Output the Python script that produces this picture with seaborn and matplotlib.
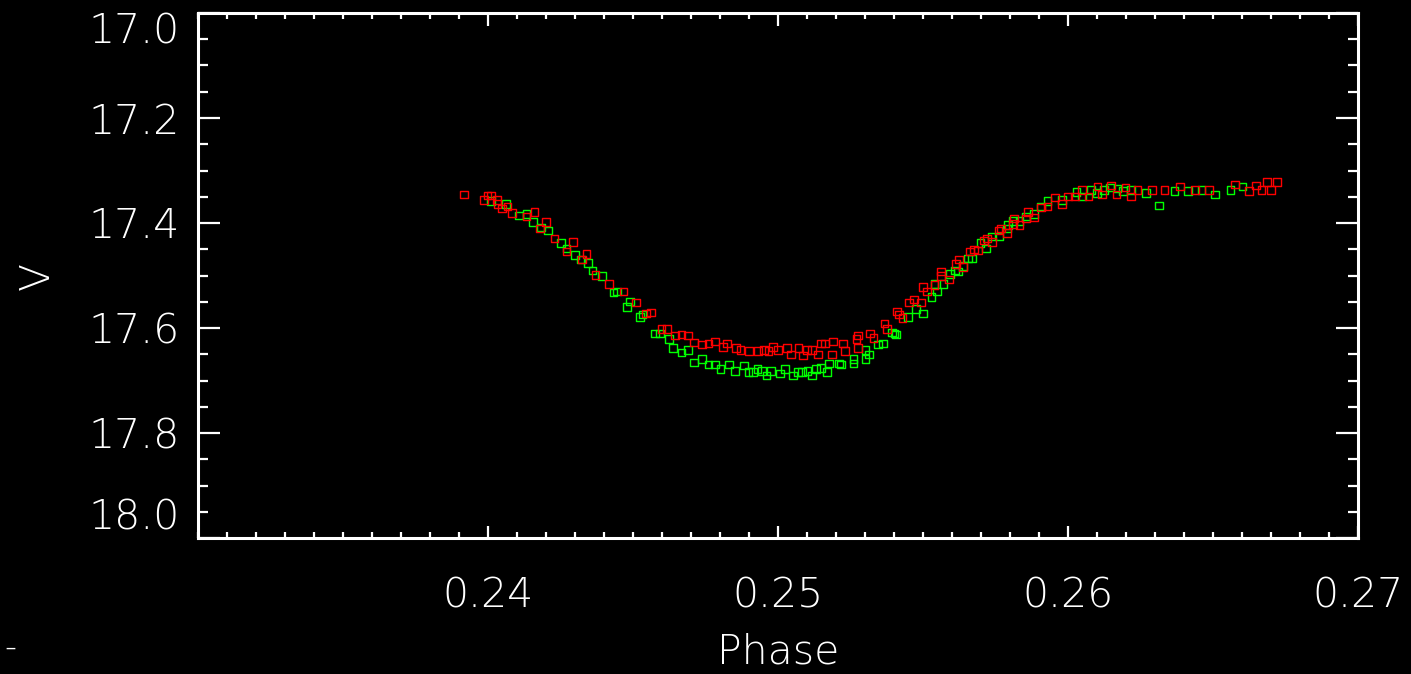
import matplotlib
matplotlib.use("Agg")
import matplotlib.pyplot as plt
import pandas as pd
import seaborn as sns
from matplotlib.ticker import MultipleLocator

# V-band light curve around phase 0.25, two observing runs
red_phase = [
    0.23917, 0.23986, 0.23997, 0.24010, 0.24031, 0.24034, 0.24048, 0.24066, 0.24083, 0.24134,
    0.24159, 0.24179, 0.24200, 0.24228, 0.24272, 0.24293, 0.24324, 0.24341, 0.24372, 0.24417,
    0.24466, 0.24510, 0.24545, 0.24562, 0.24597, 0.24617, 0.24645, 0.24666, 0.24690, 0.24710,
    0.24738, 0.24759, 0.24783, 0.24810, 0.24824, 0.24855, 0.24872, 0.24900, 0.24931, 0.24952,
    0.24966, 0.24983, 0.25000, 0.25031, 0.25045, 0.25072, 0.25086, 0.25100, 0.25117, 0.25138,
    0.25148, 0.25162, 0.25186, 0.25190, 0.25224, 0.25231, 0.25272, 0.25276, 0.25276, 0.25317,
    0.25328, 0.25366, 0.25376, 0.25410, 0.25417, 0.25428, 0.25452, 0.25469, 0.25493, 0.25500,
    0.25514, 0.25541, 0.25562, 0.25562, 0.25590, 0.25614, 0.25624, 0.25638, 0.25662, 0.25676,
    0.25690, 0.25710, 0.25721, 0.25738, 0.25759, 0.25769, 0.25790, 0.25810, 0.25814, 0.25834,
    0.25855, 0.25862, 0.25883, 0.25907, 0.25928, 0.25955, 0.25979, 0.26000, 0.26024, 0.26048,
    0.26072, 0.26103, 0.26117, 0.26148, 0.26166, 0.26197, 0.26217, 0.26241, 0.26290, 0.26334,
    0.26386, 0.26438, 0.26486, 0.26576, 0.26624, 0.26648, 0.26666, 0.26686, 0.26700, 0.26721,
]
red_mag = [
    17.345, 17.356, 17.347, 17.347, 17.356, 17.364, 17.373, 17.368, 17.381, 17.387,
    17.379, 17.410, 17.398, 17.430, 17.455, 17.436, 17.470, 17.459, 17.499, 17.516,
    17.530, 17.552, 17.573, 17.570, 17.602, 17.602, 17.615, 17.613, 17.615, 17.627,
    17.632, 17.630, 17.625, 17.636, 17.630, 17.638, 17.642, 17.644, 17.644, 17.642,
    17.644, 17.636, 17.642, 17.638, 17.650, 17.638, 17.653, 17.642, 17.642, 17.650,
    17.630, 17.630, 17.650, 17.625, 17.630, 17.644, 17.621, 17.615, 17.638, 17.610,
    17.619, 17.592, 17.602, 17.568, 17.575, 17.581, 17.552, 17.545, 17.552, 17.522,
    17.530, 17.518, 17.493, 17.501, 17.507, 17.478, 17.470, 17.484, 17.455, 17.450,
    17.453, 17.434, 17.429, 17.436, 17.415, 17.410, 17.419, 17.402, 17.392, 17.404,
    17.392, 17.379, 17.389, 17.371, 17.368, 17.352, 17.364, 17.350, 17.350, 17.337,
    17.350, 17.330, 17.345, 17.328, 17.345, 17.333, 17.350, 17.337, 17.337, 17.337,
    17.331, 17.337, 17.337, 17.326, 17.339, 17.328, 17.337, 17.322, 17.337, 17.322,
]

green_phase = [
    0.24010, 0.24062, 0.24107, 0.24134, 0.24155, 0.24183, 0.24207, 0.24252, 0.24272, 0.24300,
    0.24321, 0.24345, 0.24359, 0.24393, 0.24434, 0.24445, 0.24479, 0.24490, 0.24524, 0.24534,
    0.24576, 0.24593, 0.24624, 0.24638, 0.24666, 0.24690, 0.24710, 0.24738, 0.24759, 0.24783,
    0.24803, 0.24831, 0.24852, 0.24883, 0.24897, 0.24914, 0.24928, 0.24945, 0.24959, 0.24976,
    0.25007, 0.25024, 0.25052, 0.25069, 0.25083, 0.25103, 0.25117, 0.25131, 0.25148, 0.25169,
    0.25176, 0.25210, 0.25217, 0.25259, 0.25259, 0.25303, 0.25314, 0.25303, 0.25345, 0.25362,
    0.25393, 0.25403, 0.25407, 0.25448, 0.25476, 0.25500, 0.25528, 0.25541, 0.25548, 0.25572,
    0.25593, 0.25610, 0.25621, 0.25638, 0.25655, 0.25669, 0.25697, 0.25717, 0.25738, 0.25762,
    0.25790, 0.25793, 0.25810, 0.25834, 0.25855, 0.25883, 0.25907, 0.25928, 0.25979, 0.26028,
    0.26048, 0.26079, 0.26100, 0.26124, 0.26145, 0.26172, 0.26190, 0.26217, 0.26269, 0.26314,
    0.26366, 0.26414, 0.26459, 0.26507, 0.26559, 0.26603,
]
green_mag = [
    17.358, 17.364, 17.385, 17.383, 17.398, 17.408, 17.415, 17.438, 17.448, 17.461,
    17.470, 17.476, 17.490, 17.501, 17.533, 17.530, 17.560, 17.550, 17.579, 17.575,
    17.610, 17.610, 17.621, 17.638, 17.646, 17.642, 17.665, 17.659, 17.670, 17.670,
    17.678, 17.670, 17.682, 17.672, 17.684, 17.684, 17.678, 17.682, 17.690, 17.682,
    17.686, 17.678, 17.690, 17.684, 17.684, 17.682, 17.690, 17.678, 17.676, 17.684,
    17.667, 17.667, 17.670, 17.659, 17.667, 17.642, 17.650, 17.659, 17.632, 17.630,
    17.608, 17.610, 17.613, 17.579, 17.564, 17.573, 17.541, 17.516, 17.530, 17.516,
    17.497, 17.491, 17.493, 17.482, 17.467, 17.467, 17.438, 17.448, 17.425, 17.425,
    17.410, 17.404, 17.396, 17.396, 17.387, 17.383, 17.368, 17.358, 17.356, 17.341,
    17.349, 17.337, 17.343, 17.337, 17.333, 17.335, 17.339, 17.337, 17.343, 17.366,
    17.339, 17.339, 17.337, 17.345, 17.337, 17.331,
]

x_ticks = [0.24, 0.25, 0.26, 0.27]
x_tick_labels = ["0.24", "0.25", "0.26", "0.27"]
y_ticks = [17.0, 17.2, 17.4, 17.6, 17.8, 18.0]
y_tick_labels = ["17.0", "17.2", "17.4", "17.6", "17.8", "18.0"]

sns.set_theme(style="white")
plt.rcParams["font.family"] = ["DejaVu Sans"]
plt.rcParams["font.weight"] = "light"
plt.rcParams["text.color"] = "white"
plt.rcParams["axes.labelcolor"] = "white"
plt.rcParams["axes.labelweight"] = "light"

fig = plt.figure(figsize=(14.11, 6.74), dpi=100, facecolor="black")
ax = fig.add_axes([198 / 1411, 136 / 674, 1160 / 1411, 525 / 674])
ax.set_facecolor("black")

green = pd.DataFrame({"phase": green_phase, "mag": green_mag})
red = pd.DataFrame({"phase": red_phase, "mag": red_mag})

marker_kws = dict(marker="s", s=27, facecolor="none", linewidth=1.0, legend=False, zorder=3)
sns.scatterplot(data=green, x="phase", y="mag", ax=ax, color="#00ff00", edgecolor="#00ff00", **marker_kws)
sns.scatterplot(data=red, x="phase", y="mag", ax=ax, color="#ff0000", edgecolor="#ff0000", **marker_kws)

ax.set_xlim(0.23, 0.27)
ax.set_ylim(18.0, 17.0)

for side in ax.spines.values():
    side.set_color("white")
    side.set_linewidth(2.2)

ax.set_xticks(x_ticks, x_tick_labels)
ax.set_yticks(y_ticks, y_tick_labels)
ax.xaxis.set_minor_locator(MultipleLocator(0.001))
ax.yaxis.set_minor_locator(MultipleLocator(0.05))

ax.tick_params(axis="both", which="both", direction="in", colors="white",
               top=True, right=True, bottom=True, left=True, width=1.6)
ax.tick_params(axis="x", which="major", length=9, pad=28, labelsize=29.5)
ax.tick_params(axis="x", which="minor", length=4.5)
ax.tick_params(axis="y", which="major", length=16, pad=13, labelsize=29.5)
ax.tick_params(axis="y", which="minor", length=7.5)

for lab in ax.get_xticklabels() + ax.get_yticklabels():
    lab.set_fontweight("light")
ylabels = ax.get_yticklabels()
ylabels[0].set_va("top")
ylabels[-1].set_va("bottom")

ax.set_xlabel("Phase", fontsize=29.5, labelpad=12, fontweight="light")
ax.set_ylabel("V", fontsize=29.5, labelpad=23, fontweight="light")
ax.grid(False)

fig.text(10 / 1411, 1 - 648 / 674, "-", color="white", fontsize=24, ha="center", va="center")

fig.savefig("out.png", dpi=100, facecolor="black")
